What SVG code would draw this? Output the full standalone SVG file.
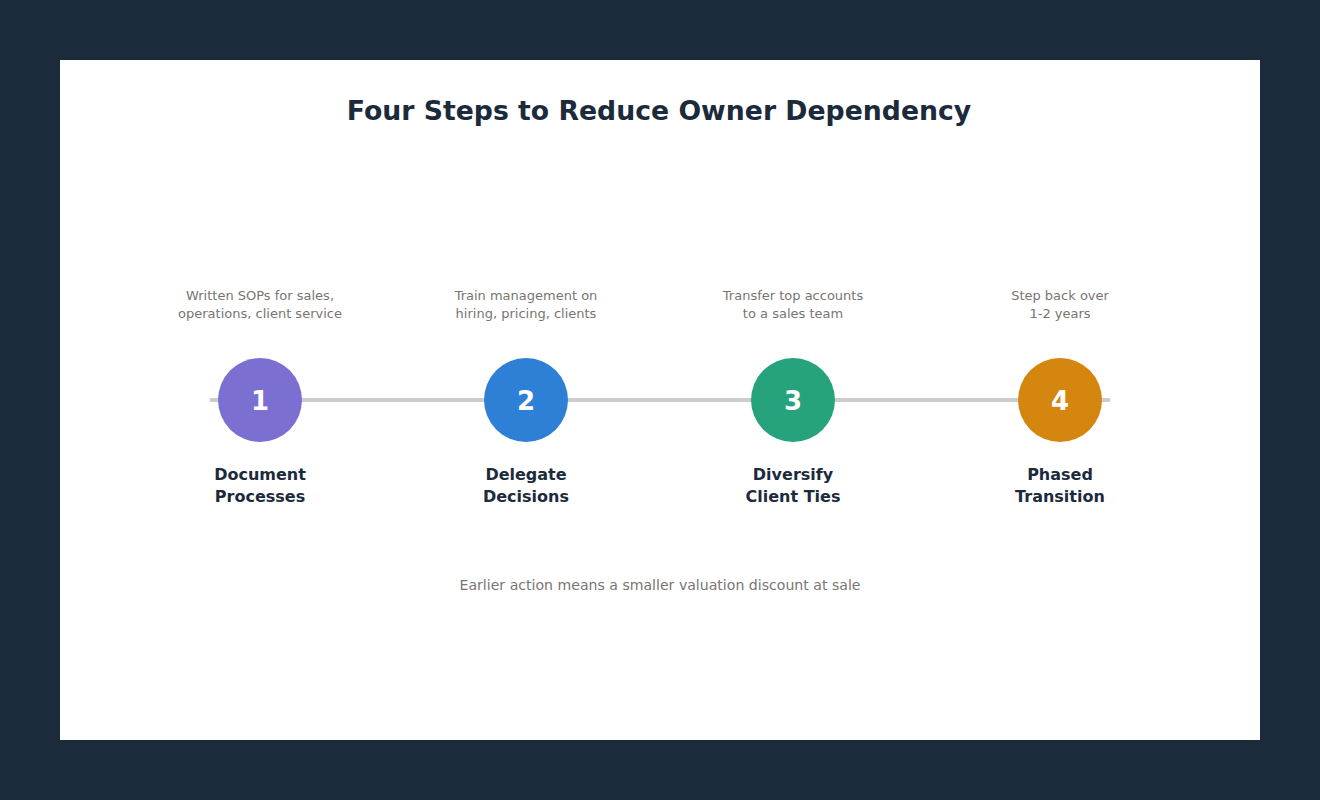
<svg xmlns="http://www.w3.org/2000/svg" width="1320" height="800" viewBox="0 0 1320 800">
<style>
.title{font-family:"DejaVu Sans",sans-serif;font-weight:bold;font-size:26.7px;fill:#1b2b3b;text-anchor:middle}
.desc{font-family:"DejaVu Sans",sans-serif;font-size:13px;fill:#7a7470;text-anchor:middle}
.lbl{font-family:"DejaVu Sans",sans-serif;font-weight:bold;font-size:16px;fill:#1b2b3b;text-anchor:middle}
.num{font-family:"DejaVu Sans",sans-serif;font-weight:bold;font-size:26px;fill:#ffffff;text-anchor:middle}
.foot{font-family:"DejaVu Sans",sans-serif;font-size:14.1px;fill:#7a7470;text-anchor:middle}
</style>
<rect width="1320" height="800" fill="#1b2b3b"/>
<rect x="60" y="60" width="1200" height="680" fill="#ffffff"/>
<text class="title" x="659" y="120">Four Steps to Reduce Owner Dependency</text>
<g id="connectors">
<line x1="210" y1="400" x2="1110" y2="400" stroke="#cccccc" stroke-width="4"/>
</g>
<g id="step1">
<text class="desc" x="260" y="300">Written SOPs for sales,</text>
<text class="desc" x="260" y="318">operations, client service</text>
<circle cx="260" cy="400" r="42" fill="#7b6fd1"/>
<text class="num" x="260" y="410">1</text>
<text class="lbl" x="260" y="480">Document</text>
<text class="lbl" x="260" y="502">Processes</text>
</g>
<g id="step2">
<text class="desc" x="526" y="300">Train management on</text>
<text class="desc" x="526" y="318">hiring, pricing, clients</text>
<circle cx="526" cy="400" r="42" fill="#2e7fd6"/>
<text class="num" x="526" y="410">2</text>
<text class="lbl" x="526" y="480">Delegate</text>
<text class="lbl" x="526" y="502">Decisions</text>
</g>
<g id="step3">
<text class="desc" x="793" y="300">Transfer top accounts</text>
<text class="desc" x="793" y="318">to a sales team</text>
<circle cx="793" cy="400" r="42" fill="#26a37d"/>
<text class="num" x="793" y="410">3</text>
<text class="lbl" x="793" y="480">Diversify</text>
<text class="lbl" x="793" y="502">Client Ties</text>
</g>
<g id="step4">
<text class="desc" x="1060" y="300">Step back over</text>
<text class="desc" x="1060" y="318">1-2 years</text>
<circle cx="1060" cy="400" r="42" fill="#d4860f"/>
<text class="num" x="1060" y="410">4</text>
<text class="lbl" x="1060" y="480">Phased</text>
<text class="lbl" x="1060" y="502">Transition</text>
</g>
<text class="foot" x="660" y="590">Earlier action means a smaller valuation discount at sale</text>
</svg>
